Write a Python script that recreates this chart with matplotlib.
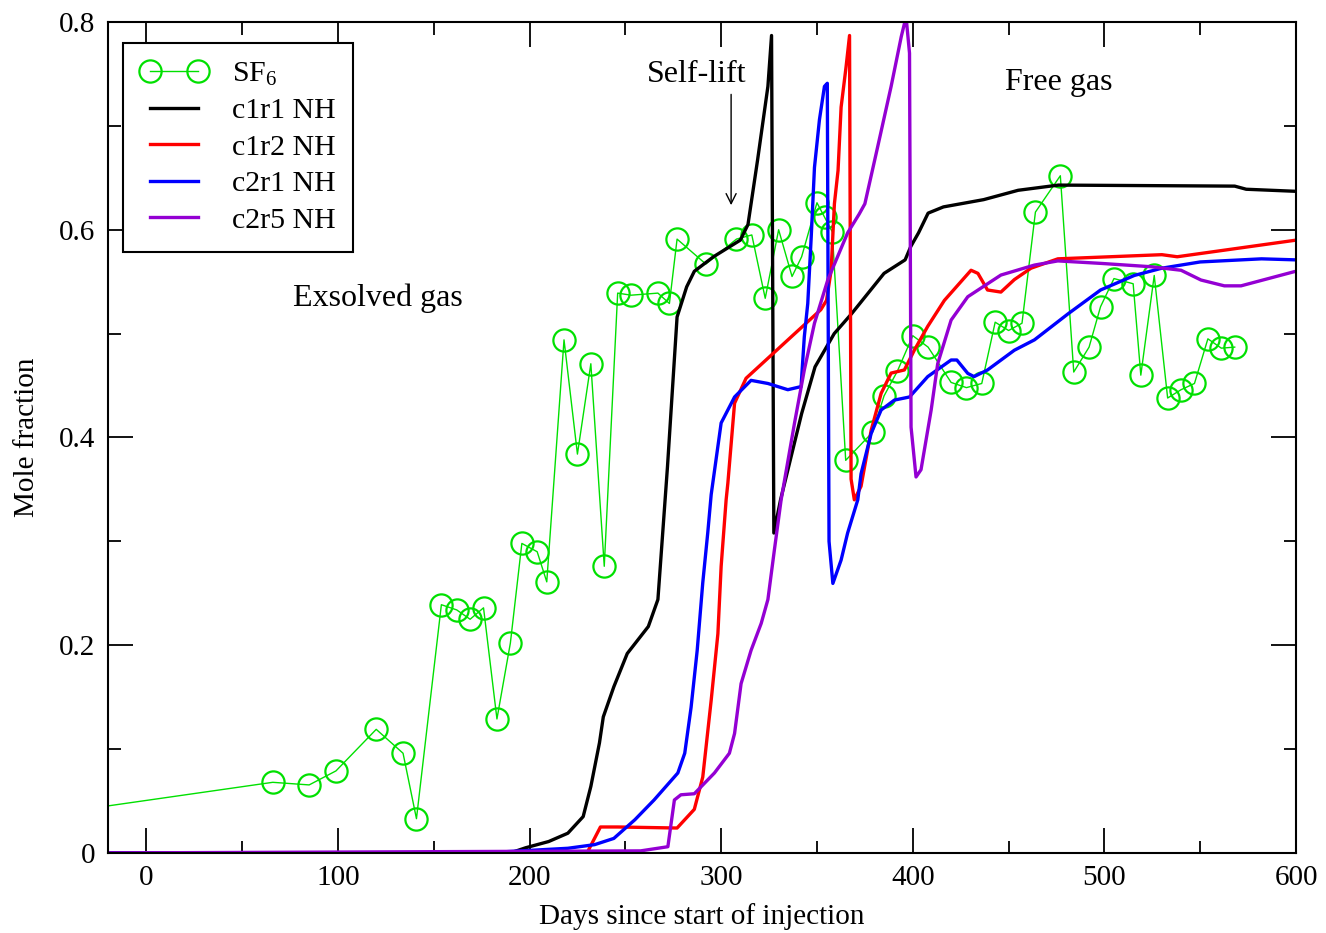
import matplotlib
matplotlib.use("Agg")
import matplotlib.pyplot as plt
from matplotlib.ticker import MultipleLocator, FuncFormatter

plt.rcParams['font.family'] = ['Liberation Serif', 'DejaVu Serif']
plt.rcParams['mathtext.fontset'] = 'custom'
plt.rcParams['mathtext.rm'] = 'Liberation Serif'
plt.rcParams['mathtext.default'] = 'rm'

# Measured SF6 mole fraction
sf6_days = [-40, 66, 85, 99, 120, 134, 141, 154, 162, 169, 176, 183, 190, 196, 204,
            209, 218, 225, 232, 239, 246, 253, 267, 273, 277, 292, 308, 316, 323,
            330, 337, 342, 350, 354, 358, 365, 379, 385, 392, 400, 408, 420, 428,
            436, 443, 450, 457, 464, 477, 484, 492, 498, 505, 515, 519, 526, 533,
            540, 547, 554, 561, 568]
sf6_frac = [0.040, 0.068, 0.0655, 0.079, 0.119, 0.096, 0.033, 0.239, 0.234, 0.225,
            0.236, 0.129, 0.202, 0.298, 0.290, 0.261, 0.494, 0.384, 0.471, 0.276,
            0.539, 0.537, 0.539, 0.529, 0.591, 0.567, 0.591, 0.595, 0.534, 0.600,
            0.555, 0.574, 0.626, 0.612, 0.598, 0.378, 0.405, 0.440, 0.464, 0.498,
            0.487, 0.453, 0.448, 0.452, 0.511, 0.503, 0.510, 0.617, 0.652, 0.463,
            0.487, 0.526, 0.553, 0.548, 0.460, 0.556, 0.438, 0.446, 0.452, 0.495,
            0.486, 0.487]

# Simulated cases
c1r1_days = [-20, 190, 198, 210, 220, 228, 232, 236.5, 238.5, 244, 251, 262, 267,
             272, 277, 282, 286, 296, 310, 314, 319, 324.4, 326.3, 327.5, 331, 342,
             349, 359, 368, 385, 396, 399, 403, 408, 416, 437, 455, 476, 568, 574, 600]
c1r1_frac = [0, 0, 0.005, 0.011, 0.019, 0.035, 0.064, 0.106, 0.131, 0.160, 0.192,
             0.218, 0.244, 0.372, 0.516, 0.545, 0.560, 0.574, 0.590, 0.605, 0.667,
             0.738, 0.787, 0.308, 0.34, 0.423, 0.468, 0.50, 0.519, 0.558, 0.571,
             0.584, 0.597, 0.616, 0.622, 0.629, 0.638, 0.643, 0.642, 0.639, 0.637]

c1r2_days = [-20, 230, 237, 246, 277, 286, 290.4, 294.8, 298.3, 300, 302.6, 303.5,
             307, 313, 352, 355, 357.4, 359.1, 361, 362.6, 365.2, 367, 367.8, 369.5,
             373, 378.3, 383.5, 388.7, 395.6, 400.8, 407.8, 416.5, 430.4, 434, 439,
             446, 453, 461.7, 475.7, 530, 538, 600]
c1r2_frac = [0, 0, 0.025, 0.025, 0.024, 0.042, 0.073, 0.147, 0.211, 0.276, 0.34,
             0.356, 0.433, 0.457, 0.523, 0.532, 0.561, 0.625, 0.657, 0.718, 0.757,
             0.787, 0.36, 0.34, 0.353, 0.407, 0.4425, 0.462, 0.465, 0.484, 0.507,
             0.532, 0.561, 0.558, 0.542, 0.540, 0.552, 0.563, 0.572, 0.576, 0.574,
             0.590]

c2r1_days = [-20, 176, 220, 234, 244, 255, 265, 277.4, 281, 284.3, 287.5, 290.4,
             293, 294.8, 300, 307, 315.6, 324.4, 334.8, 341.7, 343.4, 345.2, 347,
             348.7, 351.3, 353.9, 355.4, 356.3, 358.3, 362.6, 366, 371.3, 373, 378.3,
             383.5, 390.4, 398.3, 407.8, 420, 423, 428.7, 432, 439, 453, 463.5, 481,
             498, 515.6, 530, 550, 582, 600]
c2r1_frac = [0, 0, 0.0045, 0.008, 0.014, 0.032, 0.051, 0.077, 0.096, 0.14, 0.195,
             0.26, 0.308, 0.345, 0.414, 0.439, 0.455, 0.452, 0.446, 0.449, 0.497,
             0.529, 0.593, 0.660, 0.706, 0.738, 0.741, 0.30, 0.2595, 0.282, 0.308,
             0.34, 0.365, 0.404, 0.4265, 0.436, 0.439, 0.4586, 0.4746, 0.4746,
             0.4617, 0.4586, 0.465, 0.484, 0.494, 0.519, 0.542, 0.556, 0.563, 0.569,
             0.572, 0.571]

c2r5_days = [-20, 258, 272.2, 275.6, 279, 286, 296.5, 304.3, 307, 310.4, 315.6,
             320.9, 324.4, 327.8, 331.3, 338.3, 343.4, 348.7, 355.7, 366, 372, 375,
             381.7, 388.7, 394, 396.5, 398.3, 399.1, 401.7, 404.3, 409.6, 413, 420,
             428.7, 446, 463.5, 475.7, 498.3, 524.3, 540, 550.4, 562.6, 571.3, 599, 600]
c2r5_frac = [0, 0.002, 0.006, 0.051, 0.056, 0.057, 0.077, 0.096, 0.115, 0.163,
             0.195, 0.221, 0.244, 0.292, 0.34, 0.414, 0.465, 0.51, 0.552, 0.597,
             0.615, 0.625, 0.68, 0.738, 0.786, 0.805, 0.77, 0.41, 0.362, 0.369,
             0.4265, 0.471, 0.513, 0.5355, 0.5564, 0.566, 0.570, 0.5676, 0.5644,
             0.561, 0.5516, 0.546, 0.546, 0.5596, 0.560]

fig = plt.figure(figsize=(13.26, 9.33), dpi=100)
ax = fig.add_axes([0.0814, 0.0858, 0.8960, 0.8906])

ax.plot(sf6_days, sf6_frac, color='#00e000', lw=1.0, marker='o', ms=16,
        mfc='none', mec='#00e000', mew=1.6, label='SF$_6$')
ax.plot(c1r1_days, c1r1_frac, color='black', lw=2.4, label='c1r1 NH')
ax.plot(c1r2_days, c1r2_frac, color='#ff0000', lw=2.4, label='c1r2 NH')
ax.plot(c2r1_days, c2r1_frac, color='#0000ff', lw=2.4, label='c2r1 NH')
ax.plot(c2r5_days, c2r5_frac, color='#9400d3', lw=2.4, label='c2r5 NH')

ax.set_xlim(-20, 600)
ax.set_ylim(0, 0.8)
ax.xaxis.set_major_locator(MultipleLocator(100))
ax.xaxis.set_minor_locator(MultipleLocator(50))
ax.yaxis.set_major_locator(MultipleLocator(0.2))
ax.yaxis.set_minor_locator(MultipleLocator(0.1))
ax.yaxis.set_major_formatter(FuncFormatter(lambda v, p: '0' if abs(v) < 1e-9 else f'{v:.1f}'))
ax.tick_params(which='both', direction='in', top=True, right=True, width=1.3)
ax.tick_params(which='major', length=18, labelsize=21, pad=9)
ax.tick_params(which='minor', length=9)
for s in ax.spines.values():
    s.set_linewidth(1.5)

ax.set_xlabel('Days since start of injection', fontsize=21, labelpad=8)
ax.set_ylabel('Mole fraction', fontsize=21, labelpad=14)

ax.text(287, 0.749, 'Self-lift', fontsize=23, ha='center', va='center')
ax.text(121, 0.534, 'Exsolved gas', fontsize=23, ha='center', va='center')
ax.text(476, 0.742, 'Free gas', fontsize=23, ha='center', va='center')
ax.annotate('', xy=(305.2, 0.621), xytext=(305.2, 0.733),
            arrowprops=dict(arrowstyle='->', color='black', lw=1.0,
                            mutation_scale=18))

leg = ax.legend(loc='upper left', bbox_to_anchor=(0.0126, 0.975), borderaxespad=0,
                fontsize=21.5, numpoints=2, handlelength=2.2, handletextpad=0.85,
                labelspacing=0.32, borderpad=0.6, fancybox=False, framealpha=1,
                edgecolor='black')
leg.get_frame().set_linewidth(1.5)

fig.savefig('out.png', dpi=100)
